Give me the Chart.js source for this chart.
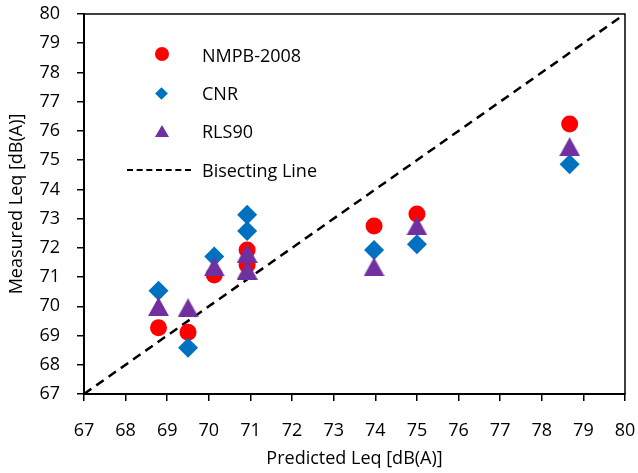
<!DOCTYPE html>
<html>
<head>
<meta charset="utf-8">
<script src="https://cdn.jsdelivr.net/npm/chart.js@4"></script>
<style>
  html, body { margin: 0; padding: 0; background: #fff; }
  #wrap { position: relative; width: 638px; height: 473px; }
  #legend { position: absolute; left: 0; top: 0; font-family: "Open Sans", sans-serif; font-size: 18px; color: #000; }
  .item { position: absolute; left: 202px; line-height: 22px; white-space: nowrap; }
  .mk { position: absolute; }
</style>
</head>
<body>
<div id="wrap">
  <canvas id="c" width="638" height="473"></canvas>
  <div id="legend">
    <div class="mk" style="left:155px;top:47px;width:14px;height:14px;border-radius:50%;background:#FF0000;"></div>
    <div class="item" style="top:44px;">NMPB-2008</div>
    <div class="mk" style="left:157px;top:89px;width:9px;height:9px;background:#0070C0;transform:rotate(45deg);"></div>
    <div class="item" style="top:82px;">CNR</div>
    <div class="mk" style="left:155px;top:125px;width:0;height:0;border-left:7px solid transparent;border-right:7px solid transparent;border-bottom:12px solid #7030A0;"></div>
    <div class="item" style="top:120px;">RLS90</div>
    <div class="mk" style="left:127px;top:169px;width:64px;height:0;border-top:2.5px dashed #000;"></div>
    <div class="item" style="top:159px;">Bisecting Line</div>
  </div>
</div>
<script>
// Data
const nmpbX = [68.79, 69.50, 70.13, 70.92, 70.92, 73.97, 75.00, 78.67];
const nmpbY = [69.27, 69.11, 71.07, 71.93, 71.41, 72.75, 73.16, 76.24];
const cnrX  = [68.79, 69.50, 70.13, 70.92, 70.92, 73.97, 75.00, 78.67];
const cnrY  = [70.53, 68.58, 71.70, 73.13, 72.58, 71.93, 72.12, 74.86];
const rlsX  = [68.79, 69.50, 70.13, 70.92, 70.92, 73.97, 75.00, 78.67];
const rlsY  = [69.99, 69.95, 71.35, 71.81, 71.24, 71.35, 72.75, 75.46];
const bisectX = [67, 80];
const bisectY = [67, 80];
const axisMin = 67, axisMax = 80;

const pts = (xs, ys) => xs.map((x, i) => ({ x: x, y: ys[i] }));

function triangle(w, h, color) {
  const c = document.createElement('canvas');
  c.width = w; c.height = h;
  const g = c.getContext('2d');
  g.fillStyle = color;
  g.beginPath();
  g.moveTo(w / 2, 0);
  g.lineTo(w, h);
  g.lineTo(0, h);
  g.closePath();
  g.fill();
  return c;
}

const FONT = '"Open Sans", sans-serif';

const frame = {
  id: 'frame',
  afterDraw(chart) {
    const a = chart.chartArea, ctx = chart.ctx;
    ctx.save();
    ctx.strokeStyle = '#000';
    ctx.lineWidth = 1.5;
    ctx.strokeRect(a.left, a.top, a.right - a.left, a.bottom - a.top);
    ctx.restore();
  }
};

function noPad(s) { s.paddingLeft = 0; s.paddingRight = 0; s.paddingTop = 0; s.paddingBottom = 0; }

new Chart(document.getElementById('c'), {
  type: 'scatter',
  data: {
    datasets: [
      {
        label: 'Bisecting Line', type: 'line', data: pts(bisectX, bisectY),
        borderColor: '#000', borderWidth: 2.5, borderDash: [9, 6],
        pointRadius: 0, fill: false, order: 4
      },
      {
        label: 'NMPB-2008', data: pts(nmpbX, nmpbY),
        pointStyle: 'circle', pointRadius: 8.5, pointHoverRadius: 8.5,
        backgroundColor: '#FF0000', borderColor: '#FF0000', borderWidth: 0, order: 3
      },
      {
        label: 'CNR', data: pts(cnrX, cnrY),
        pointStyle: 'rectRot', pointRadius: 10, pointHoverRadius: 10,
        backgroundColor: '#0070C0', borderColor: '#0070C0', borderWidth: 0, order: 2
      },
      {
        label: 'RLS90', data: pts(rlsX, rlsY),
        pointStyle: triangle(21, 19, '#7030A0'), pointRadius: 10,
        backgroundColor: '#7030A0', borderColor: '#7030A0', borderWidth: 0, order: 1
      }
    ]
  },
  options: {
    responsive: false,
    animation: false,
    events: [],
    layout: { padding: { left: 0, top: 14, right: 13, bottom: 0 } },
    plugins: { legend: { display: false }, tooltip: { enabled: false } },
    scales: {
      x: {
        type: 'linear', min: axisMin, max: axisMax,
        ticks: { stepSize: 1, color: '#000', font: { family: FONT, size: 18 }, padding: 19, maxRotation: 0 },
        grid: { drawOnChartArea: false, drawTicks: true, tickLength: 7, color: '#000', lineWidth: 1.5 },
        border: { display: true, color: '#000', width: 2 },
        title: { display: true, text: 'Predicted Leq [dB(A)]', color: '#000', font: { family: FONT, size: 18 }, padding: { top: 0, bottom: 3 } },
        afterFit(s) { s.height = 79; noPad(s); }
      },
      y: {
        type: 'linear', min: axisMin, max: axisMax,
        ticks: { stepSize: 1, color: '#000', font: { family: FONT, size: 18 }, padding: 17 },
        grid: { drawOnChartArea: false, drawTicks: true, tickLength: 7, color: '#000', lineWidth: 1.5 },
        border: { display: true, color: '#000', width: 2 },
        title: { display: true, text: 'Measured Leq [dB(A)]', color: '#000', font: { family: FONT, size: 18 }, padding: { top: 6, bottom: 0 } },
        afterFit(s) { s.width = 84; noPad(s); }
      }
    }
  },
  plugins: [frame]
});
</script>
</body>
</html>
